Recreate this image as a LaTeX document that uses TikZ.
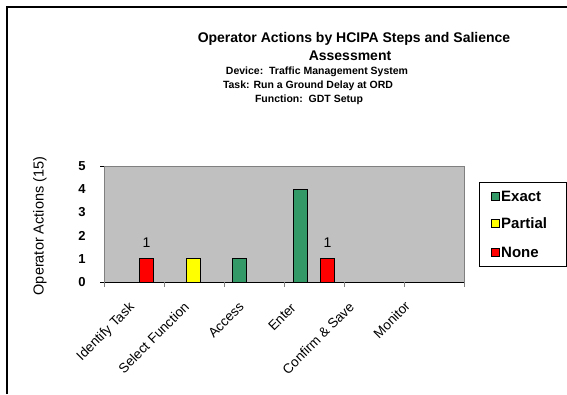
\documentclass[tikz,border=0pt]{standalone}
\usepackage{fontspec}
\setmainfont{Liberation Sans}
\definecolor{exactgreen}{HTML}{339966}
\definecolor{partialyellow}{HTML}{FFFF00}
\definecolor{nonered}{HTML}{FF0000}
\definecolor{plotgray}{HTML}{C0C0C0}
\definecolor{rimgray}{HTML}{808080}
\tikzset{
  bar/.style={draw=black, line width=1pt},
  ticklabel/.style={font=\fontsize{13}{15}\selectfont\bfseries, inner sep=0pt},
  catlabel/.style={font=\fontsize{13.5}{15}\selectfont, rotate=45, anchor=north east, inner sep=0pt},
  keytext/.style={font=\fontsize{15}{17}\selectfont\bfseries, anchor=west, inner sep=0pt},
  keybox/.style={draw=black, line width=0.8pt, minimum size=8pt, inner sep=0pt}
}

\begin{document}
\begin{tikzpicture}[x=1pt, y=-1pt]
\useasboundingbox (0,0) rectangle (567,394);
% Frame
    \draw[line width=2pt] (7,394) -- (7,7) -- (567,7);
% Titles
    \node[font=\fontsize{14}{16}\selectfont\bfseries] (title) at (354,39) {Operator Actions by HCIPA Steps and Salience};
    \node[font=\fontsize{14}{16}\selectfont\bfseries] (title2) at (350,56) {Assessment};
    \node[font=\fontsize{10.5}{12}\selectfont\bfseries] (device) at (317,72) {Device:\ \ Traffic Management System};
    \node[font=\fontsize{10.5}{12}\selectfont\bfseries] (task) at (308,86) {Task: Run a Ground Delay at ORD};
    \node[font=\fontsize{10.5}{12}\selectfont\bfseries] (function) at (309,100) {Function:\ \ GDT Setup};
% Plot area
    \fill[plotgray] (104,166) rectangle (464,282);
    \draw[rimgray, line width=1pt] (104,282) -- (104,166) -- (464,166) -- (464,282);
    \draw[black, line width=1pt] (104,282) -- (464,282);
    \foreach \x in {104,164,...,464}
        \draw[rimgray, line width=1pt] (\x,282) -- (\x,287);
    \draw[black, line width=1pt] (100,166) -- (104,166);
    \draw[black, line width=1pt] (100,282) -- (104,282);
% Value axis
    \foreach \v in {0,...,5}
        \node[ticklabel] (y\v) at (82,282-23.2*\v) {\v};
    \node[font=\fontsize{14.5}{16}\selectfont, rotate=90] (ytitle) at (40,226) {Operator Actions (15)};
% Bars
    \draw[bar, fill=nonered] (139.5,282) rectangle (153.5,258.8);
    \draw[bar, fill=partialyellow] (186,282) rectangle (200,258.8);
    \draw[bar, fill=exactgreen] (232.5,282) rectangle (246.5,258.8);
    \draw[bar, fill=exactgreen] (293.5,282) rectangle (307.5,189.2);
    \draw[bar, fill=nonered] (320.5,282) rectangle (334.5,258.8);
    \node[font=\fontsize{14}{16}\selectfont] (n1) at (146.5,243) {1};
    \node[font=\fontsize{14}{16}\selectfont] (n2) at (327.5,243) {1};
% Categories
    \node[catlabel] (identify) at (128,301) {Identify Task};
    \node[catlabel] (select) at (183,301) {Select Function};
    \node[catlabel] (access) at (238,301) {Access};
    \node[catlabel] (enter) at (290,302) {Enter};
    \node[catlabel] (confirm) at (348,301) {Confirm \& Save};
    \node[catlabel] (monitor) at (404,300) {Monitor};
% Legend
    \draw[black, line width=0.8pt] (479,182) rectangle (566,266);
    \node[keybox, fill=exactgreen] (kexact) at (495.5,196) {};
    \node[keybox, fill=partialyellow] (kpartial) at (495.5,223.5) {};
    \node[keybox, fill=nonered] (knone) at (495.5,252) {};
    \node[keytext] (lexact) at (501,196) {Exact};
    \node[keytext] (lpartial) at (501,223.5) {Partial};
    \node[keytext] (lnone) at (501,252) {None};
\end{tikzpicture}
\end{document}
